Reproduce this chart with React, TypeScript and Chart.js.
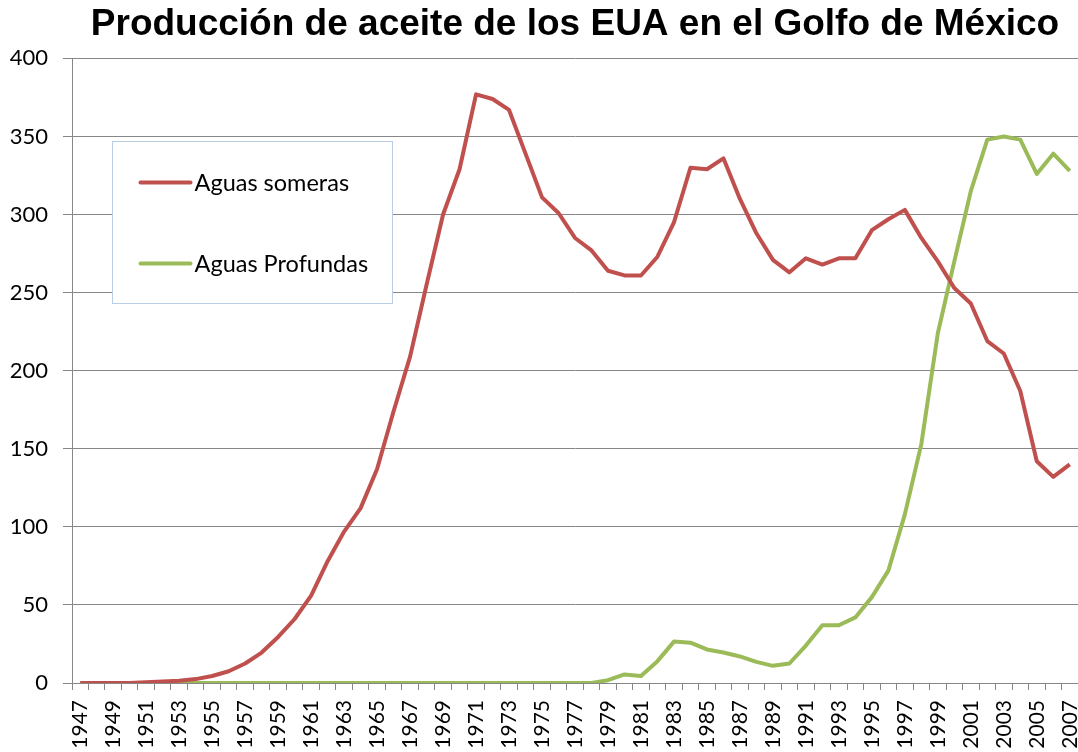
import React, { useEffect, useRef } from 'react';
import { Chart, registerables } from 'chart.js';

Chart.register(...registerables);

const chartTitle = 'Producción de aceite de los EUA en el Golfo de México';

const years = [
  '1947', '1948', '1949', '1950', '1951', '1952', '1953', '1954', '1955', '1956',
  '1957', '1958', '1959', '1960', '1961', '1962', '1963', '1964', '1965', '1966',
  '1967', '1968', '1969', '1970', '1971', '1972', '1973', '1974', '1975', '1976',
  '1977', '1978', '1979', '1980', '1981', '1982', '1983', '1984', '1985', '1986',
  '1987', '1988', '1989', '1990', '1991', '1992', '1993', '1994', '1995', '1996',
  '1997', '1998', '1999', '2000', '2001', '2002', '2003', '2004', '2005', '2006',
  '2007',
];

const aguasSomeras = [
  0, 0, 0, 0, 0.5, 1, 1.5, 2.5, 4.5, 7.5,
  12.5, 19.5, 29.5, 41, 56, 78, 97, 112, 137, 174,
  209, 255, 300, 329, 377, 374, 367, 339, 311, 301,
  285, 277, 264, 261, 261, 273, 295, 330, 329, 336,
  310, 288, 271, 263, 272, 268, 272, 272, 290, 297,
  303, 285, 270, 253, 243, 219, 211, 187, 142, 132,
  140,
];

const aguasProfundas = [
  0, 0, 0, 0, 0, 0, 0, 0, 0, 0,
  0, 0, 0, 0, 0, 0, 0, 0, 0, 0,
  0, 0, 0, 0, 0, 0, 0, 0, 0, 0,
  0, 0, 1.8, 5.5, 4.5, 14, 26.5, 25.8, 21.5, 19.5,
  17, 13.5, 11, 12.5, 24, 37, 37, 42, 55, 72,
  108, 153, 224, 270, 315, 348, 350, 348, 326, 339,
  328,
];

const yTicks = [0, 50, 100, 150, 200, 250, 300, 350, 400];

const seriesNames = ['Aguas someras', 'Aguas Profundas'];
const seriesColors = ['#c0504d', '#9bbb59'];

const GRID = '#878787';
const LABEL_FONT = 'Lato, "Open Sans", sans-serif';

const legendBoxPlugin = {
  id: 'legendBox',
  afterDatasetsDraw(chart: any) {
    const { ctx, chartArea } = chart;
    const x = Math.round(chartArea.left + 40) + 0.5;
    const y = Math.round(chartArea.top + 83) + 0.5;
    const w = 280;
    const h = 162;
    ctx.save();
    ctx.fillStyle = '#ffffff';
    ctx.fillRect(x, y, w, h);
    ctx.strokeStyle = '#b9cde5';
    ctx.lineWidth = 1;
    ctx.strokeRect(x, y, w, h);
    chart.data.datasets.forEach((ds: any, i: number) => {
      const cy = y + 41 + i * 81;
      ctx.strokeStyle = ds.borderColor;
      ctx.lineWidth = 4;
      ctx.lineCap = 'round';
      ctx.beginPath();
      ctx.moveTo(x + 28, cy);
      ctx.lineTo(x + 78, cy);
      ctx.stroke();
      ctx.fillStyle = '#000000';
      ctx.font = `23.5px ${LABEL_FONT}`;
      ctx.textBaseline = 'middle';
      ctx.textAlign = 'left';
      ctx.fillText(ds.label, x + 82, cy + 1);
    });
    ctx.restore();
  },
};

export default function App() {
  const canvasRef = useRef<HTMLCanvasElement | null>(null);

  useEffect(() => {
    const canvas = canvasRef.current;
    if (!canvas) return;
    const chart = new Chart(canvas, {
      type: 'line',
      data: {
        labels: years,
        datasets: [
          {
            label: seriesNames[0],
            data: aguasSomeras,
            borderColor: seriesColors[0],
            backgroundColor: seriesColors[0],
            borderWidth: 4,
            pointRadius: 0,
            tension: 0,
            borderJoinStyle: 'round',
          },
          {
            label: seriesNames[1],
            data: aguasProfundas,
            borderColor: seriesColors[1],
            backgroundColor: seriesColors[1],
            borderWidth: 4,
            pointRadius: 0,
            tension: 0,
            borderJoinStyle: 'round',
          },
        ],
      },
      options: {
        animation: false,
        responsive: true,
        maintainAspectRatio: false,
        events: [],
        layout: { padding: 0 },
        plugins: {
          legend: { display: false },
          tooltip: { enabled: false },
          title: {
            display: true,
            text: chartTitle,
            fullSize: false,
            color: '#000000',
            font: { family: '"Liberation Sans", Arial, sans-serif', size: 37, weight: 'bold' },
            padding: { top: 3, bottom: 11 },
          },
        },
        scales: {
          x: {
            type: 'category',
            offset: true,
            grid: {
              display: true,
              drawOnChartArea: false,
              drawTicks: true,
              tickLength: 7,
              offset: true,
              color: GRID,
              lineWidth: 1,
            },
            border: { display: true, color: GRID, width: 1 },
            ticks: {
              autoSkip: false,
              maxRotation: 90,
              minRotation: 90,
              padding: 10,
              color: '#000000',
              font: { family: LABEL_FONT, size: 21 },
              callback: function (this: any, value: any, index: number) {
                return index % 2 === 0 ? this.getLabelForValue(value) : '';
              },
            },
            afterFit: (scale: any) => {
              scale.height = 69;
              scale.paddingLeft = 0;
              scale.paddingRight = 0;
            },
          },
          y: {
            min: 0,
            max: 400,
            afterBuildTicks: (scale: any) => {
              scale.ticks = yTicks.map((v) => ({ value: v }));
            },
            grid: { color: GRID, lineWidth: 1, tickLength: 9 },
            border: { display: true, color: GRID, width: 1 },
            ticks: {
              padding: 15,
              color: '#000000',
              font: { family: LABEL_FONT, size: 22 },
            },
            afterFit: (scale: any) => {
              scale.width = 72;
              scale.paddingTop = 0;
              scale.paddingBottom = 0;
            },
          },
        },
      },
      plugins: [legendBoxPlugin],
    });
    return () => chart.destroy();
  }, []);

  return (
    <div
      style={{
        position: 'fixed',
        left: 0,
        top: 0,
        width: 1078,
        height: 752,
        background: '#ffffff',
        overflow: 'hidden',
      }}
    >
      <canvas ref={canvasRef} />
    </div>
  );
}
